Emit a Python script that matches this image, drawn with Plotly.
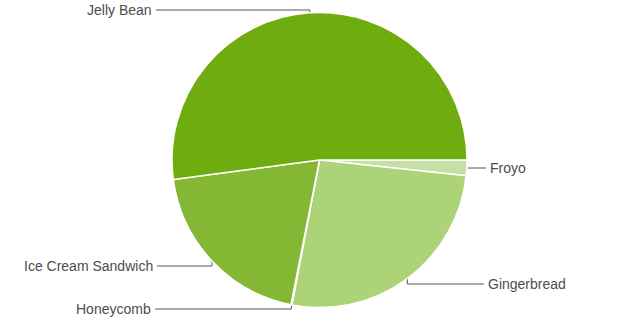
import math
import plotly.graph_objects as go

# Data (Android platform distribution)
versions = ["Froyo", "Gingerbread", "Honeycomb", "Ice Cream Sandwich", "Jelly Bean"]
shares = [1.7, 26.3, 0.1, 19.8, 52.1]
colors = ["#c5e0a4", "#acd378", "#9bc85a", "#84b733", "#6fac0f"]

# Layout config
W, H = 640, 320
CX, CY, R = 319.5, 160.0, 147.5
label_y = {"Froyo": 168, "Gingerbread": 284, "Honeycomb": 309,
           "Ice Cream Sandwich": 266, "Jelly Bean": 10}
label_end = {"Froyo": 486, "Gingerbread": 484, "Honeycomb": 155,
             "Ice Cream Sandwich": 157, "Jelly Bean": 156}

fig = go.Figure()
fig.add_trace(go.Pie(
    labels=versions, values=shares, sort=False, direction="clockwise",
    rotation=90, textinfo="none", hoverinfo="label+percent",
    marker=dict(colors=colors, line=dict(color="white", width=1.5)),
    domain=dict(x=[(CX - R) / W, (CX + R) / W], y=[(H - CY - R) / H, (H - CY + R) / H]),
    showlegend=False,
))

total = sum(shares)
cum = 0.0
for name, v in zip(versions, shares):
    mid = (cum + v / 2) / total * 360.0  # degrees clockwise from 3 o'clock
    cum += v
    a = math.radians(mid)
    px = CX + R * math.cos(a)
    py = CY + R * math.sin(a)
    ly = label_y[name]
    lx = label_end[name]
    right = px > CX
    fig.add_trace(go.Scatter(
        x=[px, px, lx] if abs(py - ly) > 1 else [px + (1 if right else -1), lx],
        y=[py, ly, ly] if abs(py - ly) > 1 else [ly, ly],
        mode="lines", line=dict(color="#555555", width=1),
        hoverinfo="skip", showlegend=False,
    ))
    fig.add_annotation(
        x=lx + (2 if right else -2), y=ly, text=name, showarrow=False,
        xanchor="left" if right else "right", yanchor="middle",
        font=dict(family="Liberation Sans, Arial, sans-serif", size=14, color="#4d4d4d"),
    )

fig.update_layout(
    width=W, height=H, margin=dict(l=0, r=0, t=0, b=0),
    paper_bgcolor="white", plot_bgcolor="rgba(0,0,0,0)",
    xaxis=dict(range=[0, W], visible=False, fixedrange=True),
    yaxis=dict(range=[H, 0], visible=False, fixedrange=True),
)
fig.write_html("out.html")
